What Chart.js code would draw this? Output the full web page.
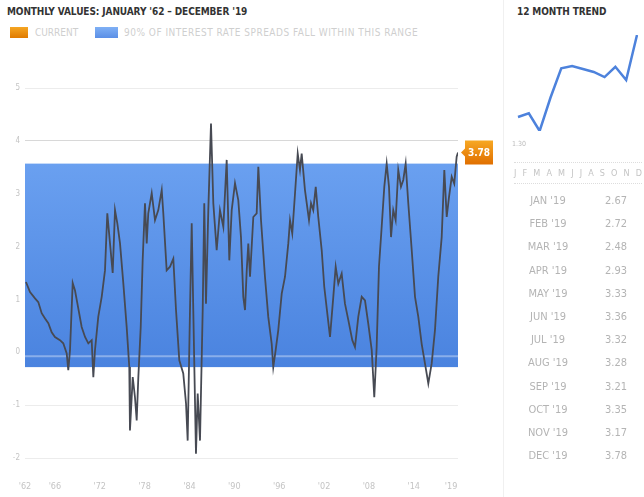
<!DOCTYPE html>
<html>
<head>
<meta charset="utf-8">
<script src="https://cdn.jsdelivr.net/npm/chart.js@4.4.1/dist/chart.umd.min.js"></script>
<style>
body { margin: 0; width: 644px; height: 497px; background: #fff; position: relative; overflow: hidden;
       font-family: "DejaVu Sans Condensed", "DejaVu Sans", sans-serif; }
#main { position: absolute; left: 0; top: 0; }
#spark { position: absolute; left: 512px; top: 0; }
.title { position: absolute; font-weight: bold; font-size: 10px; color: #333; letter-spacing: -0.1px; }
.legend { position: absolute; top: 27px; font-size: 10px; color: #cfcfcf; line-height: 11px; }
.swatch { position: absolute; top: 27px; height: 11px; }
.divider { position: absolute; left: 503px; top: 0; width: 1px; height: 497px; background: #f0f0f0; }
.months { position: absolute; left: 514px; top: 162px; width: 128px; height: 20px; border-top: 1px dotted #ddd;
          border-bottom: 1px dotted #ddd; display: flex; justify-content: space-between; align-items: center;
          font-size: 9px; color: #c4c4c4; }
.row { position: absolute; left: 520px; width: 120px; font-size: 11px; color: #b4b4b4; }
.row .m { position: absolute; left: 2px; width: 52px; text-align: center; }
.row .v { position: absolute; left: 80px; width: 32px; text-align: center; }
</style>
</head>
<body>
<div class="title" style="left:7px; top:6px;">MONTHLY VALUES: JANUARY '62 – DECEMBER '19</div>
<div class="swatch" style="left:10px; width:18px; background:linear-gradient(#f5a623,#e07a00);"></div>
<div class="legend" style="left:35px;">CURRENT</div>
<div class="swatch" style="left:95px; width:23px; background:linear-gradient(#7fb0f5,#5b8fe6);"></div>
<div class="legend" style="left:124px; letter-spacing:0.5px;">90% OF INTEREST RATE SPREADS FALL WITHIN THIS RANGE</div>
<canvas id="main" width="500" height="497"></canvas>
<div class="divider"></div>
<div class="title" style="left:517px; top:6px;">12 MONTH TREND</div>
<canvas id="spark" width="132" height="160"></canvas>
<div style="position:absolute; left:512px; top:140px; font-size:7px; color:#bbb;">1.30</div>
<div class="months" id="months"></div>
<div id="table"></div>
<script>
// monthly series (decimal year, value)
const years = [1962.13, 1962.67, 1963.34, 1963.78, 1964.23, 1964.68, 1965.12, 1965.57, 1966.01, 1966.68,
  1967.12, 1967.58, 1967.79, 1968.02, 1968.38, 1968.69, 1969.00, 1969.58, 1970.03, 1970.47,
  1970.92, 1971.14, 1971.36, 1971.80, 1972.26, 1972.70, 1973.01, 1973.37, 1973.73, 1974.04,
  1974.35, 1974.71, 1975.15, 1975.60, 1975.95, 1976.04, 1976.41, 1976.71, 1976.94, 1977.16,
  1977.48, 1977.74, 1978.05, 1978.28, 1978.49, 1978.95, 1979.39, 1979.83, 1980.29, 1980.50,
  1980.95, 1981.40, 1981.84, 1982.20, 1982.64, 1983.17, 1983.54, 1983.76, 1984.07, 1984.30,
  1984.51, 1984.87, 1985.10, 1985.41, 1985.77, 1985.98, 1986.21, 1986.52, 1986.88, 1987.19,
  1987.64, 1988.08, 1988.53, 1988.98, 1989.33, 1989.65, 1990.09, 1990.53, 1990.89, 1991.20,
  1991.43, 1991.66, 1991.87, 1992.10, 1992.54, 1992.99, 1993.21, 1993.57, 1994.10, 1994.54,
  1995.00, 1995.21, 1995.53, 1995.88, 1996.34, 1996.78, 1997.22, 1997.45, 1997.75, 1998.12,
  1998.48, 1998.78, 1999.01, 1999.45, 1999.99, 2000.26, 2000.56, 2000.89, 2001.23, 2001.69,
  2002.03, 2002.49, 2002.80, 2003.24, 2003.56, 2003.91, 2004.36, 2004.80, 2005.25, 2005.78,
  2006.14, 2006.58, 2007.04, 2007.48, 2007.92, 2008.38, 2008.72, 2009.04, 2009.35, 2009.71,
  2010.06, 2010.38, 2010.69, 2010.96, 2011.26, 2011.58, 2011.93, 2012.29, 2012.60, 2012.92,
  2013.27, 2013.73, 2014.17, 2014.61, 2015.06, 2015.50, 2015.95, 2016.40, 2016.84, 2017.28,
  2017.74, 2018.09, 2018.41, 2018.72, 2019.08, 2019.42, 2019.74, 2019.92]
const values = [1.33, 1.14, 1.02, 0.95, 0.74, 0.64, 0.55, 0.38, 0.29, 0.23,
  0.17, -0.02, -0.34, 0.04, 1.31, 1.17, 0.93, 0.48, 0.29, 0.17,
  0.23, -0.47, 0.04, 0.67, 1.05, 1.55, 2.63, 2.06, 1.50, 2.69,
  2.44, 2.06, 1.31, 0.48, -0.28, -1.48, -0.47, -0.85, -1.29, -0.47,
  0.48, 1.74, 2.82, 2.06, 2.63, 3.01, 2.50, 2.69, 3.07, 2.63,
  1.55, 1.62, 1.77, 0.80, -0.15, -0.40, -0.97, -1.67, 0.80, 2.44,
  0.80, -1.92, -0.78, -1.67, 0.80, 2.82, 0.92, 2.69, 4.33, 2.82,
  1.93, 2.69, 2.37, 3.64, 1.74, 2.69, 3.20, 2.88, 2.18, 1.05,
  0.80, 1.55, 2.06, 1.43, 2.56, 2.63, 3.51, 2.50, 1.43, 0.67,
  0.16, -0.28, 0.04, 0.42, 1.11, 1.43, 2.06, 2.50, 2.25, 3.01,
  3.76, 3.45, 3.76, 3.07, 2.50, 2.82, 2.69, 3.13, 2.56, 1.93,
  1.24, 0.67, 0.29, 1.05, 1.62, 1.30, 1.49, 0.92, 0.61, 0.23,
  0.10, 0.67, 1.05, 0.98, 0.54, 0.04, -0.85, 0.10, 1.62, 2.37,
  3.13, 3.57, 3.13, 2.18, 2.69, 2.50, 3.45, 3.13, 3.26, 3.57,
  2.82, 1.93, 1.05, 0.67, 0.16, -0.21, -0.59, -0.21, 0.42, 1.43,
  2.18, 3.45, 2.56, 2.94, 3.32, 3.19, 3.70, 3.78]

const xTickYears = [1962, 1966, 1972, 1978, 1984, 1990, 1996, 2002, 2008, 2014, 2019]
const xTickLabels = ["'62", "'66", "'72", "'78", "'84", "'90", "'96", "'02", "'08", "'14", "'19"]
const yTicks = [5, 4, 3, 2, 1, 0, -1, -2]
const band = [-0.28, 3.57]   // 90% range
const currentValue = 3.78

const trendMonths = ['JAN', 'FEB', 'MAR', 'APR', 'MAY', 'JUN', 'JUL', 'AUG', 'SEP', 'OCT', 'NOV', 'DEC']
const trendInitials = ['J', 'F', 'M', 'A', 'M', 'J', 'J', 'A', 'S', 'O', 'N', 'D']
const trendValues = [2.67, 2.72, 2.48, 2.93, 3.33, 3.36, 3.32, 3.28, 3.21, 3.35, 3.17, 3.78]

const bandPlugin = {
    id: 'band',
    beforeDatasetsDraw(chart) {
        const {ctx, chartArea, scales: {x, y}} = chart
        const top = y.getPixelForValue(band[1])
        const bottom = y.getPixelForValue(band[0])
        const g = ctx.createLinearGradient(0, top, 0, bottom)
        g.addColorStop(0, '#6aa0f0')
        g.addColorStop(1, '#4a83df')
        ctx.save()
        ctx.fillStyle = g
        ctx.fillRect(chartArea.left, top, chartArea.right - chartArea.left, bottom - top)
        // lighter zero line inside the band
        const z = y.getPixelForValue(0) + 4
        ctx.strokeStyle = 'rgba(255,255,255,0.35)'
        ctx.lineWidth = 2
        ctx.beginPath()
        ctx.moveTo(chartArea.left, z)
        ctx.lineTo(chartArea.right, z)
        ctx.stroke()
        ctx.restore()
    }
}

const currentPlugin = {
    id: 'current',
    afterDatasetsDraw(chart) {
        const {ctx, scales: {x, y}} = chart
        const px = x.getPixelForValue(years[years.length - 1]) + 3
        const py = y.getPixelForValue(currentValue)
        const g = ctx.createLinearGradient(0, py - 12, 0, py + 12)
        g.addColorStop(0, '#f7a823')
        g.addColorStop(1, '#e06f00')
        ctx.save()
        ctx.fillStyle = g
        ctx.beginPath()
        ctx.moveTo(px, py)
        ctx.lineTo(px + 4, py - 4)
        ctx.lineTo(px + 4, py - 12)
        ctx.lineTo(px + 32, py - 12)
        ctx.lineTo(px + 32, py + 12)
        ctx.lineTo(px + 4, py + 12)
        ctx.lineTo(px + 4, py + 4)
        ctx.closePath()
        ctx.fill()
        ctx.fillStyle = '#fff'
        ctx.font = 'bold 10px "DejaVu Sans Condensed", sans-serif'
        ctx.textAlign = 'center'
        ctx.textBaseline = 'middle'
        ctx.fillText(currentValue.toFixed(2), px + 18, py + 1)
        ctx.restore()
    }
}

new Chart(document.getElementById('main'), {
    type: 'line',
    data: {
        datasets: [{
            data: years.map((yr, i) => ({x: yr, y: values[i]})),
            borderColor: '#474a53',
            borderWidth: 1.8,
            pointRadius: 0,
            tension: 0
        }]
    },
    options: {
        responsive: false,
        animation: false,
        layout: {padding: {top: 61.6, right: 42, left: 0, bottom: 0}},
        plugins: {legend: {display: false}, tooltip: {enabled: false}},
        scales: {
            x: {
                type: 'linear',
                min: 1962,
                max: 2019.92,
                afterBuildTicks: (s) => { s.ticks = xTickYears.map(v => ({value: v})) },
                afterFit: (s) => { s.height = 28.4 },
                grid: {display: false, drawTicks: false},
                border: {display: false},
                ticks: {
                    padding: 13,
                    color: '#c4c4c4',
                    font: {size: 9, family: '"DejaVu Sans Condensed", sans-serif'},
                    maxRotation: 0,
                    autoSkip: false,
                    callback: (v) => xTickLabels[xTickYears.indexOf(v)]
                }
            },
            y: {
                min: -2.2,
                max: 5.5,
                afterBuildTicks: (s) => { s.ticks = yTicks.map(v => ({value: v})) },
                afterFit: (s) => { s.width = 25 },
                grid: {
                    drawTicks: false,
                    color: (c) => c.tick && c.tick.value === 4 ? '#d8d8d8' : '#ececec'
                },
                border: {display: false},
                ticks: {
                    padding: 5,
                    color: '#c4c4c4',
                    font: {size: 8, family: '"DejaVu Sans Condensed", sans-serif'}
                }
            }
        }
    },
    plugins: [bandPlugin, currentPlugin]
})

new Chart(document.getElementById('spark'), {
    type: 'line',
    data: {
        labels: trendMonths,
        datasets: [{
            data: trendValues,
            borderColor: '#4d82dc',
            borderWidth: 2.5,
            pointRadius: 0,
            tension: 0
        }]
    },
    options: {
        responsive: false,
        animation: false,
        layout: {padding: {top: 35, right: 7, left: 6, bottom: 29}},
        plugins: {legend: {display: false}, tooltip: {enabled: false}},
        scales: {
            x: {display: false},
            y: {display: false, min: Math.min(...trendValues), max: Math.max(...trendValues)}
        }
    }
})

const months = document.getElementById('months')
trendInitials.forEach(t => {
    const s = document.createElement('span')
    s.textContent = t
    months.appendChild(s)
})

const table = document.getElementById('table')
trendMonths.forEach((m, i) => {
    const row = document.createElement('div')
    row.className = 'row'
    row.style.top = (194 + i * 23.2) + 'px'
    row.innerHTML = `<span class="m">${m} '19</span><span class="v">${trendValues[i].toFixed(2)}</span>`
    table.appendChild(row)
})
</script>
</body>
</html>
